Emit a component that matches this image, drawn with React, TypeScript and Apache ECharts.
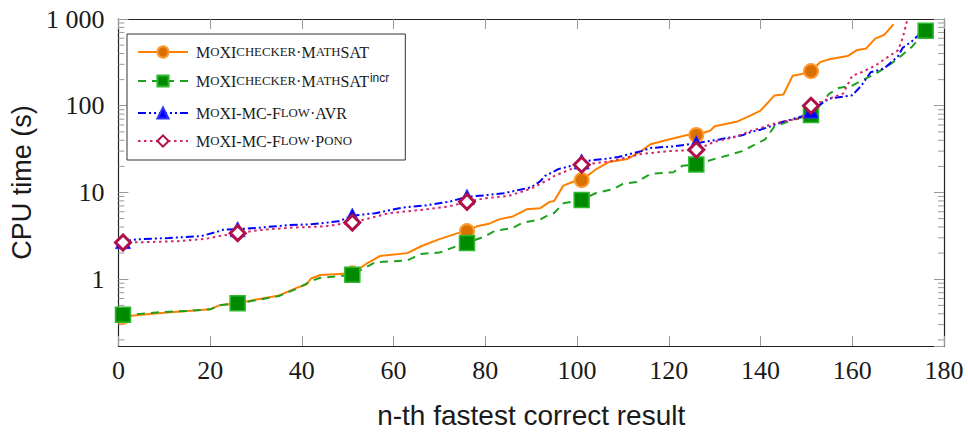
import React, { useEffect, useRef } from 'react';
import * as echarts from 'echarts';

// n-th result indices where markers are drawn
const markN = [1, 26, 51, 76, 101, 126, 151, 176];

// MoXIchecker·MathSAT
const mathsatN = [1, 5, 10, 15, 20, 22, 26, 29, 35, 39, 41, 42, 44, 48, 51, 54, 57, 63, 66, 70, 74, 76, 78, 81, 83, 86, 89, 92, 94, 95, 97, 99, 101, 104, 107, 111, 114, 116, 120, 124, 126, 129, 130, 135, 138, 140, 143, 145, 147, 149, 151, 153, 155, 159, 161, 163, 165, 167, 169];
const mathsatT = [0.37, 0.39, 0.41, 0.43, 0.45, 0.5, 0.53, 0.57, 0.65, 0.8, 0.87, 1.02, 1.12, 1.15, 1.17, 1.5, 1.85, 2.0, 2.4, 2.9, 3.4, 3.58, 4.05, 4.4, 4.9, 5.3, 6.4, 6.6, 7.8, 8.0, 12.0, 13.2, 13.9, 18.3, 22.5, 24.4, 30, 36, 40.8, 46, 46, 51.6, 58, 66, 78, 88, 131, 135, 222, 232, 251, 318, 343, 374, 437, 456, 594, 659, 870];

// MoXIchecker·MathSAT^incr
const incrN = [1, 5, 10, 15, 20, 22, 26, 29, 35, 39, 42, 44, 48, 51, 53, 56, 63, 66, 70, 75, 76, 80, 82, 86, 88, 92, 94, 95, 97, 101, 104, 108, 110, 113, 116, 121, 123, 126, 130, 133, 136, 138, 141, 143, 147, 151, 153, 155, 157, 160, 162, 165, 168, 170, 173, 175, 176];
const incrT = [0.39, 0.4, 0.42, 0.43, 0.45, 0.5, 0.53, 0.56, 0.64, 0.78, 0.95, 1.04, 1.08, 1.13, 1.29, 1.57, 1.65, 1.96, 2.03, 2.55, 2.62, 3.14, 3.6, 3.9, 4.45, 4.9, 5.6, 5.8, 7.5, 8.2, 9.8, 11.0, 12.6, 13.2, 16.4, 17.1, 20.4, 21, 24.4, 26.9, 30, 34, 40.9, 57.5, 68.8, 78, 102, 138, 160, 171, 195, 232, 294, 350, 478, 630, 731];

// MoXI-MC-Flow·AVR
const avrN = [1, 4, 11, 18, 21, 23, 26, 31, 37, 42, 48, 51, 56, 62, 67, 72, 76, 80, 84, 87, 90, 92, 93, 95, 96, 99, 101, 106, 109, 114, 116, 121, 126, 131, 136, 138, 140, 142, 145, 149, 151, 155, 160, 162, 164, 167, 170, 171, 173, 175];
const avrT = [2.75, 2.88, 2.99, 3.14, 3.46, 3.74, 3.77, 3.94, 4.2, 4.3, 4.65, 5.4, 5.77, 6.7, 7.1, 7.8, 8.9, 9.3, 9.8, 10.6, 11.5, 13.5, 15.5, 17.5, 18.7, 20.4, 22.8, 24.4, 25.7, 30, 32.6, 34, 37, 40.9, 45.6, 50, 53, 57.5, 65.8, 75, 88, 121, 132, 171, 243, 270, 374, 466, 553, 690];

// MoXI-MC-Flow·Pono
const ponoN = [1, 5, 13, 19, 22, 26, 31, 38, 45, 48, 51, 59, 66, 72, 76, 80, 85, 90, 92, 94, 95, 101, 107, 114, 120, 126, 130, 134, 138, 140, 142, 145, 149, 151, 155, 158, 160, 162, 165, 167, 170, 171, 172];
const ponoT = [2.65, 2.67, 2.75, 2.92, 3.14, 3.4, 3.7, 3.94, 4.07, 4.3, 4.5, 5.77, 6.3, 6.9, 7.8, 8.6, 9.1, 11.1, 12.6, 14.3, 15.5, 20.9, 22.8, 27.8, 30, 31, 38.6, 42.9, 51.7, 55, 60.4, 65.8, 72, 100, 121, 138, 222, 243, 289, 343, 437, 605, 980];

const seriesNames = [
  'MoXIchecker·MathSAT',
  'MoXIchecker·MathSAT^incr',
  'MoXI-MC-Flow·AVR',
  'MoXI-MC-Flow·Pono',
];

const yMin = 0.17;
const yMax = 1000;
const xMin = 0;
const xMax = 180;
const xInterval = 20;
const yMinorTicks = [0.2, 0.3, 0.4, 0.5, 0.6, 0.7, 0.8, 0.9, 2, 3, 4, 5, 6, 7, 8, 9, 20, 30, 40, 50, 60, 70, 80, 90, 200, 300, 400, 500, 600, 700, 800, 900];

function toRich(name: string): string {
  let main = name;
  let sup = '';
  const i = name.indexOf('^');
  if (i >= 0) {
    main = name.slice(0, i);
    sup = name.slice(i + 1);
  }
  let out = '';
  let buf = '';
  let mode = '';
  const flush = () => {
    if (buf) out += `{${mode}|${buf}}`;
    buf = '';
  };
  for (const ch of main) {
    const lower = ch >= 'a' && ch <= 'z';
    const m = lower ? 'sc' : 'cap';
    if (m !== mode) {
      flush();
      mode = m;
    }
    buf += lower ? ch.toUpperCase() : ch;
  }
  flush();
  if (sup) out += `{sup|${sup}}`;
  return out;
}

function buildData(ns: number[], ts: number[]) {
  return ns.map((n, i) =>
    markN.includes(n) ? { value: [n, ts[i]] } : { value: [n, ts[i]], symbol: 'none' }
  );
}

const serif = 'Liberation Serif';
const sans = 'Liberation Sans';
const textColor = '#1a1a1a';
const tickColor = '#9a9a9a';
const frameColor = '#222';

export default function App() {
  const ref = useRef<HTMLDivElement>(null);
  useEffect(() => {
    if (!ref.current) return;
    const chart = echarts.init(ref.current, undefined, { renderer: 'svg' });
    const isPow10 = (v: number) => Math.abs(Math.log10(v) - Math.round(Math.log10(v))) < 1e-9;
    const yLabelFmt = (v: number) => {
      if (!isPow10(v)) return '';
      if (Math.abs(v - 1000) < 1e-6) return '1 000';
      return String(Math.round(v));
    };
    const rich = {
      cap: { fontFamily: serif, fontSize: 16, color: textColor, lineHeight: 18, padding: [0, 0, 0, 0] },
      sc: { fontFamily: serif, fontSize: 12.8, color: textColor, lineHeight: 18 },
      sup: { fontFamily: sans, fontSize: 12, color: textColor, verticalAlign: 'top', lineHeight: 18, padding: [0, 0, 9, 1] },
    };
    const lineBase = {
      type: 'line',
      showSymbol: true,
      showAllSymbol: true,
      symbolSize: 14,
      animation: false,
      emphasis: { disabled: true },
      xAxisIndex: 0,
      yAxisIndex: 0,
    };
    chart.setOption({
      animation: false,
      grid: { left: 113, right: 24, top: 19, bottom: 82, containLabel: false },
      legend: {
        data: seriesNames,
        orient: 'vertical',
        left: 127,
        top: 34,
        itemWidth: 50,
        itemHeight: 14,
        itemGap: 12,
        padding: [10, 16, 11, 10],
        borderColor: '#333',
        borderWidth: 1,
        borderRadius: 0,
        backgroundColor: '#fff',
        align: 'left',
        formatter: toRich,
        textStyle: { rich, fontFamily: serif, fontSize: 16, color: textColor, padding: [0, 0, 0, 3] },
        selectedMode: false,
      },
      xAxis: [
        {
          type: 'value',
          min: xMin,
          max: xMax,
          interval: xInterval,
          position: 'bottom',
          axisLine: { show: true, onZero: false, lineStyle: { color: frameColor, width: 1.2 } },
          axisTick: { show: true, inside: true, length: 10, lineStyle: { color: tickColor } },
          axisLabel: { fontFamily: serif, fontSize: 26, color: textColor, margin: 11 },
          splitLine: { show: false },
          name: 'n-th fastest correct result',
          nameLocation: 'middle',
          nameGap: 55,
          nameTextStyle: { fontFamily: sans, fontSize: 28, color: textColor },
        },
        {
          type: 'value',
          min: xMin,
          max: xMax,
          interval: xInterval,
          position: 'top',
          axisLine: { show: true, onZero: false, lineStyle: { color: frameColor, width: 1.2 } },
          axisTick: { show: true, inside: true, length: 10, lineStyle: { color: tickColor } },
          axisLabel: { show: false },
          splitLine: { show: false },
        },
      ],
      yAxis: [
        {
          type: 'log',
          logBase: 10,
          min: yMin,
          max: yMax,
          position: 'left',
          axisLine: { show: true, onZero: false, lineStyle: { color: frameColor, width: 1.2 } },
          axisTick: { show: true, inside: true, length: 10, lineStyle: { color: tickColor } },
          axisLabel: { fontFamily: serif, fontSize: 26, color: textColor, margin: 14, formatter: yLabelFmt, showMinLabel: false },
          splitLine: { show: false },
          name: 'CPU time (s)',
          nameLocation: 'middle',
          nameGap: 68,
          nameTextStyle: { fontFamily: sans, fontSize: 27, color: textColor },
        },
        {
          type: 'log',
          logBase: 10,
          min: yMin,
          max: yMax,
          position: 'right',
          axisLine: { show: true, onZero: false, lineStyle: { color: frameColor, width: 1.2 } },
          axisTick: { show: true, inside: true, length: 10, lineStyle: { color: tickColor } },
          axisLabel: { show: false },
          splitLine: { show: false },
        },
      ],
      series: [
        {
          type: 'custom',
          name: 'minor ticks',
          silent: true,
          xAxisIndex: 0,
          yAxisIndex: 0,
          data: yMinorTicks.filter((v) => v > yMin && v < yMax).map((v) => [xMin, v]),
          encode: { x: 0, y: 1 },
          clip: false,
          renderItem: (params: any, api: any) => {
            const v = api.value(1);
            const l = api.coord([xMin, v]);
            const r = api.coord([xMax, v]);
            return {
              type: 'group',
              children: [
                { type: 'line', shape: { x1: l[0], y1: l[1], x2: l[0] + 6, y2: l[1] }, style: { stroke: tickColor, lineWidth: 1 } },
                { type: 'line', shape: { x1: r[0] - 6, y1: r[1], x2: r[0], y2: r[1] }, style: { stroke: tickColor, lineWidth: 1 } },
              ],
            };
          },
        },
        {
          ...lineBase,
          name: seriesNames[0],
          data: buildData(mathsatN, mathsatT),
          symbol: 'circle',
          symbolSize: 14,
          lineStyle: { color: '#ff8000', width: 2, type: 'solid' },
          itemStyle: { color: '#d97000', borderColor: '#ff9a33', borderWidth: 2 },
        },
        {
          ...lineBase,
          name: seriesNames[1],
          data: buildData(incrN, incrT),
          symbol: 'rect',
          symbolSize: 15,
          lineStyle: { color: '#20a020', width: 2, type: [8, 6] },
          itemStyle: { color: '#008a00', borderColor: '#2dbb2d', borderWidth: 1.5 },
        },
        {
          ...lineBase,
          name: seriesNames[2],
          data: buildData(avrN, avrT),
          symbol: 'triangle',
          symbolSize: 15,
          lineStyle: { color: '#0000ff', width: 2, type: [8, 3, 2, 3, 2, 3] },
          itemStyle: { color: '#0000ff', borderColor: '#3333ff', borderWidth: 1 },
        },
        {
          ...lineBase,
          name: seriesNames[3],
          data: buildData(ponoN, ponoT),
          symbol: 'diamond',
          symbolSize: 15,
          lineStyle: { color: '#d4246a', width: 2, type: [2.5, 3.5] },
          itemStyle: { color: '#ffffff', borderColor: '#b0104a', borderWidth: 3 },
        },
      ],
    });
    return () => chart.dispose();
  }, []);
  return <div ref={ref} style={{ width: 968, height: 434, position: 'absolute', left: 0, top: 0 }} />;
}
